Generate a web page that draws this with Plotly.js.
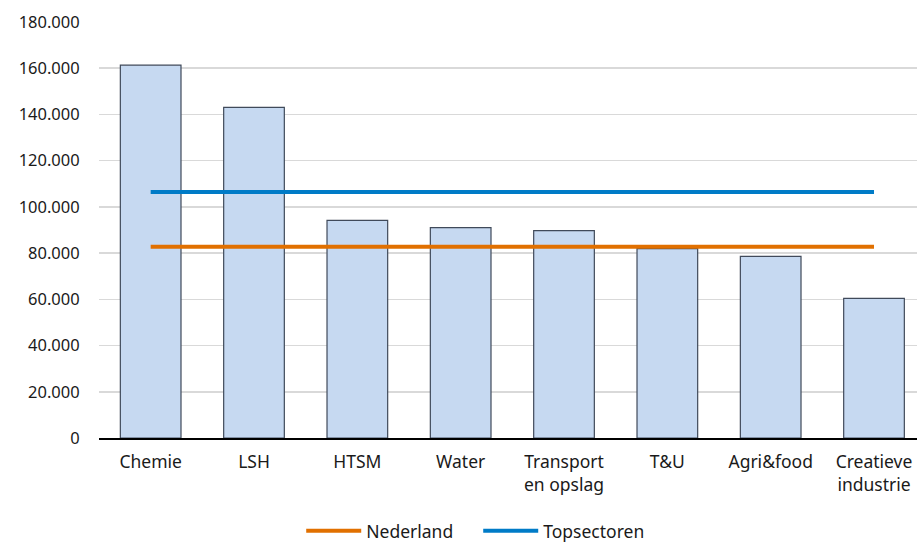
<!DOCTYPE html>
<html>
<head>
<meta charset="utf-8">
<script src="https://cdn.plot.ly/plotly-3.0.1.min.js"></script>
<style>html,body{margin:0;padding:0;background:#fff;}#chart{width:917px;height:544px;}</style>
</head>
<body>
<div id="chart"></div>
<script>
const categories = ["Chemie", "LSH", "HTSM", "Water", "Transport<br>en opslag", "T&U", "Agri&food", "Creatieve<br>industrie"];
const sectorValues = [161300, 143100, 94200, 91000, 89700, 81950, 78600, 60400];
const nederlandValue = 82800;
const topsectorenValue = 106450;
const nederland = categories.map(() => nederlandValue);
const topsectoren = categories.map(() => topsectorenValue);
const yTicks = [0, 20000, 40000, 60000, 80000, 100000, 120000, 140000, 160000, 180000];

const font = "Noto Sans, Open Sans, sans-serif";

const data = [
  {
    type: "bar", x: categories, y: sectorValues, showlegend: false,
    marker: {color: "#C6D9F1", line: {color: "#404a5a", width: 1.2}},
    hoverinfo: "skip"
  },
  {
    type: "scatter", mode: "lines", x: categories, y: nederland, name: "Nederland",
    line: {color: "#E17000", width: 4}
  },
  {
    type: "scatter", mode: "lines", x: categories, y: topsectoren, name: "Topsectoren",
    line: {color: "#007BC7", width: 4}
  }
];

const layout = {
  width: 917, height: 544,
  margin: {l: 99, r: 0, t: 22, b: 106},
  paper_bgcolor: "#fff", plot_bgcolor: "#fff",
  separators: ",.",
  font: {family: font, color: "#1a1a1a"},
  bargap: 0.413,
  xaxis: {
    type: "category", range: [-0.5, 7.416],
    showgrid: false, showline: true, linecolor: "#000", linewidth: 2,
    ticks: "outside", ticklen: 7, tickcolor: "rgba(0,0,0,0)",
    tickfont: {size: 17.5, family: font, color: "#1a1a1a"},
    fixedrange: true
  },
  yaxis: {
    range: [0, 180000], tickvals: yTicks, tickformat: ",d",
    showgrid: true, gridcolor: "#D9D9D9", gridwidth: 1.6,
    zeroline: false, showline: false,
    ticks: "outside", ticklen: 15, tickcolor: "rgba(0,0,0,0)",
    tickfont: {size: 16.5, family: font, color: "#1a1a1a"},
    fixedrange: true
  },
  legend: {
    orientation: "h", xref: "container", yref: "container",
    x: 0.5215, xanchor: "center", y: 0.024, yanchor: "middle",
    font: {size: 17.5, family: font, color: "#1a1a1a"},
    itemwidth: 55, entrywidth: 107, entrywidthmode: "pixels"
  },
  showlegend: true
};

Plotly.newPlot("chart", data, layout, {displayModeBar: false, staticPlot: true});
</script>
</body>
</html>
